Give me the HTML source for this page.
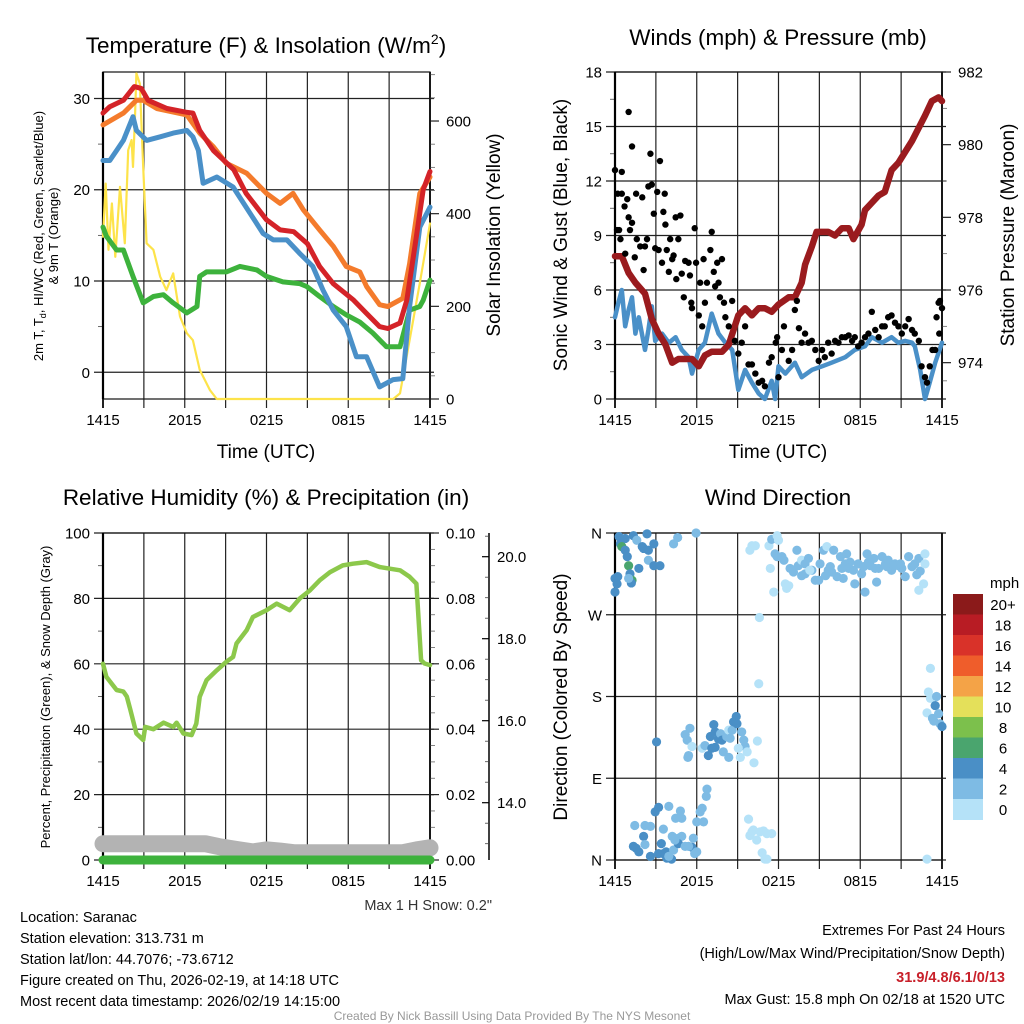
<!DOCTYPE html>
<html><head><meta charset="utf-8"><title>Mesonet Station Meteogram</title>
<style>html,body{margin:0;padding:0;background:#fff}svg{display:block;font-family:"Liberation Sans",Arial,sans-serif}</style>
</head><body>
<svg id="chart" width="1024" height="1024" viewBox="0 0 1024 1024" xmlns="http://www.w3.org/2000/svg">
<rect x="0" y="0" width="1024" height="1024" fill="#fff"/>
<g font-size="22.5" text-anchor="middle" fill="#000">
<text x="266" y="53">Temperature (F) &amp; Insolation (W/m<tspan font-size="14" dy="-9">2</tspan><tspan dy="9">)</tspan></text>
<text x="778" y="45">Winds (mph) &amp; Pressure (mb)</text>
<text x="266" y="505">Relative Humidity (%) &amp; Precipitation (in)</text>
<text x="778" y="505">Wind Direction</text>
</g>
<g font-size="19" text-anchor="middle">
<text x="266" y="458">Time (UTC)</text>
<text x="778" y="458">Time (UTC)</text>
<text transform="translate(500,235) rotate(-90)">Solar Insolation (Yellow)</text>
<text transform="translate(567,235) rotate(-90)">Sonic Wind &amp; Gust (Blue, Black)</text>
<text transform="translate(1014,235) rotate(-90)">Station Pressure (Maroon)</text>
<text transform="translate(567,697) rotate(-90)">Direction (Colored By Speed)</text>
</g>
<g font-size="13" text-anchor="middle">
<text transform="translate(43,236) rotate(-90)">2m T, T<tspan font-size="9" dy="3">d</tspan><tspan dy="-3">, HI/WC (Red, Green, Scarlet/Blue)</tspan></text>
<text transform="translate(58,236) rotate(-90)">&amp; 9m T (Orange)</text>
<text transform="translate(50,697) rotate(-90)">Percent, Precipitation (Green), &amp; Snow Depth (Gray)</text>
</g>
<g id="layers"></g>
<g font-size="14.5" fill="#000">
<text x="492" y="910" text-anchor="end" fill="#333">Max 1 H Snow: 0.2"</text>
<text x="20" y="922">Location: Saranac</text>
<text x="20" y="943">Station elevation: 313.731 m</text>
<text x="20" y="964">Station lat/lon: 44.7076; -73.6712</text>
<text x="20" y="985">Figure created on Thu, 2026-02-19, at 14:18 UTC</text>
<text x="20" y="1006">Most recent data timestamp: 2026/02/19 14:15:00</text>
<text x="1005" y="935" text-anchor="end">Extremes For Past 24 Hours</text>
<text x="1005" y="958" text-anchor="end">(High/Low/Max Wind/Precipitation/Snow Depth)</text>
<text x="1005" y="982" text-anchor="end" fill="#c8202a" font-weight="bold">31.9/4.8/6.1/0/13</text>
<text x="1005" y="1004" text-anchor="end">Max Gust: 15.8 mph On 02/18 at 1520 UTC</text>
<text x="512" y="1020" text-anchor="middle" font-size="12" fill="#999">Created By Nick Bassill Using Data Provided By The NYS Mesonet</text>
</g>
</svg>
<script>
// ---------- DATA ----------
const timeLabels = ["1415","2015","0215","0815","1415"];
// Panel 1
const redT = [0,0.5,1.5,2.3,2.8,3.3,4.7,6.1,6.6,7.1,8.1,9.6,10.5,12,13,14,15,15.9,16.9,18.4,19.3,20.3,20.9,21.8,22.3,23,23.5,24];
const redV = [28.4,29.1,29.8,31.3,31.1,29.8,28.9,28.5,28.4,26.5,24.3,22.2,19.6,16.7,15.6,15.4,14.1,11.6,9.7,7.9,6.5,5,4.8,5.4,7.9,14.9,20,22];
const orangeT = [0,1.5,2.45,2.95,3.95,6.15,7.1,8.1,9.05,10.55,12,13,13.95,14.7,15.9,16.9,17.85,18.85,19.35,20.3,20.9,22,22.5,23.25,24];
const orangeV = [27.1,28.4,29.8,29.8,28.9,28.2,26.2,24.7,22.9,21.8,19.6,18.5,19.6,17.8,15.6,13.8,11.6,11.0,9.4,7.4,7.2,8.1,11.9,19.6,21.4];
const greenT = [0,0.25,1,1.5,2.2,2.95,3.7,4.43,5.15,6.15,6.9,7.1,7.6,9.05,10.05,11.3,12,13.2,14.45,14.95,15.9,16.9,17.85,18.85,19.8,20.8,21.8,22.5,23.25,23.5,24];
const greenV = [15.9,14.9,13.4,13.4,10.5,7.6,8.3,8.5,7.6,6.5,7.2,10.5,11.0,11.0,11.6,11.2,10.5,9.9,9.7,9.4,8.3,7.2,6.3,5.5,4.3,2.8,2.8,6.8,7.2,7.9,10.1];
const blueT = [0,0.5,1,1.5,2.2,2.45,3.2,4.2,5.15,6.15,6.6,7,7.35,8.35,9.55,11.75,12.5,13.5,14.45,15.4,16.15,16.9,17.85,18.6,19.35,20.3,21.3,22,22.5,23.25,24];
const blueV = [23.2,23.2,24.3,25.4,28,26.5,25.4,25.8,26.2,26.5,25.8,24.3,20.7,21.4,20.3,15.2,14.5,14.5,13,11.6,9,6.8,5,1.7,1.7,-1.6,-0.8,-0.7,7.2,15.9,18.1];
const solarT = [0,0.2,0.4,0.65,0.9,1.25,1.6,1.85,2.1,2.2,2.35,2.45,2.7,2.95,3.2,3.7,4.2,4.65,5.15,5.65,6.15,6.6,7.1,7.85,8.35,21.3,21.8,22.5,23.25,24];
const solarV = [350,465,322,422,307,458,336,537,559,501,609,703,681,501,336,322,264,235,271,178,142,127,63,19,0,0,12,127,250,379];
// Panel 2
const presT = [0,0.5,1,1.5,2.2,2.7,3.2,3.7,4.2,4.65,5.65,6.15,6.6,7.1,7.85,8.35,9.05,9.55,10.05,10.55,11,11.5,12,12.75,13.2,13.7,13.95,14.45,14.8,15.65,16.15,16.65,17.15,17.5,18.1,18.35,18.85,19.35,19.8,20.3,20.8,21.3,21.8,22.75,23.25,23.75,24];
const presV = [976.93,976.93,976.47,976.2,975.9,975.2,974.8,974.5,974.0,974.1,974.1,973.9,974.2,974.3,974.3,974.5,975.3,975.5,975.3,975.5,975.5,975.4,975.6,975.8,975.8,976.2,976.7,977.2,977.6,977.6,977.5,977.7,977.7,977.4,977.8,978.2,978.4,978.6,978.7,979.3,979.5,979.8,980.1,980.8,981.2,981.3,981.2];
const windT = [0,0.25,0.5,0.75,1,1.25,1.5,1.75,2.2,2.45,2.7,2.95,3.45,3.95,4.45,4.9,5.4,5.65,6.15,6.6,7.1,7.6,8.1,8.6,9.05,9.55,10.05,10.55,11,11.5,11.75,12,12.5,13.2,13.7,14.45,15.2,15.9,16.9,17.6,18.35,18.85,19.6,20.3,20.8,21.3,21.8,22,22.4,22.75,23.1,23.5,24];
const windV = [4.5,5.3,6.0,4.0,4.9,5.6,3.6,4.5,2.7,3.8,5.1,3.2,3.6,3.1,3.4,2.7,2.3,1.4,2.7,3.1,4.7,3.6,3.1,2.7,0.5,1.6,0.9,0.3,0,1.0,0,1.8,1.4,2.0,1.2,1.6,1.8,2.0,2.3,2.7,2.9,3.4,3.1,3.4,3.1,3.2,3.1,2.9,1.6,0,0.9,2.0,3.1];
const gustT = [0,0.15,0.2,0.3,0.4,0.5,0.5,0.7,0.75,0.9,1.0,1.0,1.1,1.25,1.25,1.45,1.55,1.6,1.85,2.0,2.1,2.2,2.35,2.45,2.6,2.7,2.85,2.95,3.1,3.2,3.3,3.45,3.55,3.65,3.7,3.8,3.95,4.05,4.2,4.3,4.45,4.5,4.65,4.8,4.9,5.05,5.15,5.4,5.5,5.6,5.65,5.85,5.95,6.15,6.25,6.4,6.5,6.6,6.75,7.0,7.1,7.25,7.35,7.5,7.6,7.7,7.85,8.0,8.1,8.35,8.6,8.8,9.05,9.3,9.55,9.8,10.05,10.3,10.55,10.8,11.0,11.3,11.5,11.8,11.9,12.0,12.25,12.4,12.75,13.0,13.2,13.35,13.5,13.7,13.95,14.2,14.45,14.7,14.95,15.2,15.4,15.65,15.9,16.15,16.4,16.65,16.9,17.15,17.4,17.6,17.85,18.1,18.35,18.6,18.85,19.1,19.35,19.6,19.8,20.05,20.3,20.55,20.8,21.05,21.3,21.55,21.8,22.0,22.3,22.5,22.75,22.9,23.1,23.3,23.5,23.6,23.75,23.85,24.0,23.8];
const gustV = [12.6,9.3,11.3,9.3,8.8,12.5,11.3,10.6,8.0,11.0,15.8,10.0,9.3,13.9,9.7,7.8,11.3,8.8,8.4,11.1,7.1,8.4,8.8,11.7,13.5,11.8,10.2,8.3,11.4,8.2,13.1,7.5,10.3,11.3,9.6,8.2,7.0,8.8,7.7,7.9,10.0,6.6,8.8,10.1,6.9,5.6,7.6,7.5,6.8,5.3,5.0,9.4,7.5,4.6,6.4,4.0,7.7,5.3,6.4,8.2,9.2,7.0,6.2,7.5,6.4,5.6,7.7,5.3,4.5,4.0,5.4,3.2,2.5,3.1,4.0,1.9,1.9,1.4,0.9,1.0,0.7,2.0,2.3,3.1,3.4,1.2,2.7,4.0,2.1,2.7,4.9,5.4,3.9,3.1,3.6,3.1,3.2,2.7,2.1,2.7,2.3,3.1,2.5,3.2,3.1,3.4,3.4,3.5,3.2,3.4,2.9,3.1,3.4,3.6,4.8,3.8,3.4,4.0,4.0,4.5,4.6,4.2,4.0,3.6,4.0,4.4,3.8,3.6,3.2,1.8,1.2,0.9,1.8,2.7,2.7,4.5,5.3,5.4,5.0,3.6];
// Panel 3
const rhT = [0,0.25,1,1.5,1.75,2,2.45,2.95,3.1,3.7,4.45,5.15,5.4,5.9,6.5,6.85,7.1,7.6,8.35,9.05,9.55,9.8,10.55,11,12,12.75,13.7,14.45,15.2,15.9,16.65,17.6,18.35,19.35,20.3,21.8,22.5,23,23.35,23.6,24];
const rhV = [60,56,52,51.5,50,46,38.7,36.7,40.7,40,42,40.7,42,38.7,38.2,41.7,49.9,55,58,60.6,62.1,66.2,70.3,74.3,76.4,78.4,76.4,80,82.5,85.5,88,90.1,90.6,91.1,89.6,88.6,86.6,84.5,61.1,60.1,59.6];
const precipT = [0,24];
const precipV = [0,0];
const snowT = [0,7.5,8.5,10,11,12,13,14,22,23,24];
const snowV = [13.0,13.0,12.93,12.85,12.8,12.85,12.82,12.78,12.78,12.85,12.9];
// Panel 4
const dirT = [0.3,0.5,0.75,0.4,0.5,0.75,0.9,1.0,1.1,1.25,1.2,1.0,0,0.2,0.15,0,1.35,1.6,2.0,2.1,2.35,2.45,2.85,2.45,1.75,2.85,3.3,4.3,4.6,5.95,
9.9,10.05,10.3,11.3,11.5,11.9,12.0,11.75,11.9,12.25,12.4,11.4,11.65,12.5,12.6,12.75,12.85,13.1,13.35,13.45,13.7,13.95,14.2,14.45,14.7,14.95,15.05,15.3,15.55,15.65,15.9,16.05,16.3,16.55,16.75,17.0,17.25,17.5,17.6,17.85,18.1,18.35,18.5,18.75,19.0,19.2,19.35,19.6,19.85,20.05,20.3,20.55,20.8,21.05,21.3,21.55,21.8,22.0,22.15,22.3,22.4,22.65,22.3,22.75,22.75,16.9,17.15,18.25,18.6,19.1,19.95,20.45,20.95,15.45,15.8,16.65,13.95,14.3,13.7,
10.6,10.55,10.45,23.15,23.0,23.15,23.6,23.5,23.75,22.9,23.3,23.4,23.85,24.0,
3.05,5.15,5.5,5.3,5.65,5.4,5.35,6.4,6.6,6.85,7.0,7.25,7.1,7.35,7.6,7.75,7.85,7.95,8.2,8.35,8.45,8.6,8.7,8.9,8.95,9.3,9.45,9.55,9.7,9.05,9.2,8.35,7.35,10.2,6.75,6.7,6.4,6.25,6.5,6.0,5.75,5.65,6.0,5.85,
1.45,2.2,2.6,2.1,2.95,3.2,3.95,3.55,4.2,4.65,4.9,4.9,4.8,4.45,1.35,1.55,1.75,2.2,2.6,3.2,3.4,3.55,3.75,3.8,4.15,3.95,4.3,4.65,5.15,4.4,5.4,
9.8,9.9,10.05,10.15,10.4,10.65,10.9,11.15,11.5,10.8,11.0,11.15,22.9];
const dirV = [356,352,354,348,345,341,334,324,315,308,305,310,310,312,304,295,357,352,345,343,359,341,348,330,321,324,324,348,355,360,
341,346,346,346,353,357,352,337,334,334,330,321,295,304,299,302,321,317,341,324,330,326,332,319,308,308,326,341,345,319,317,341,312,334,310,337,328,319,304,326,315,295,337,324,332,306,321,334,326,330,319,326,324,321,312,334,323,326,314,332,318,304,297,337,326,326,321,323,328,321,323,324,326,313,323,321,315,319,313,
267,194,131,211,185,178,180,170,161,162,156,153,150,147,
130,138,145,132,125,115,113,123,126,115,136,149,123,141,133,139,132,119,136,143,134,143,152,158,150,141,132,125,119,123,113,113,124,107,78,70,57,53,42,42,24,14,9,7,
38,38,37,26,53,58,59,34,26,24,26,46,54,46,15,13,9,17,4,7,18,7,9,2,1,4,11,18,15,22,15,
45,27,31,33,22,31,32,29,29,8,1,1,1];
const dirSpeed = [4.5,4.5,4.5,4.5,6.5,4.5,4.5,6.5,4.5,6.5,4.5,2.8,4.5,4.5,4.5,4.5,4.5,2.8,4.5,4.5,4.5,4.5,4.5,2.8,4.5,4.5,4.5,2.8,2.8,2.8,
1,1,1,1,2.8,1,1,2.8,2.8,2.8,2.8,1,1,1,1,1,2.8,2.8,2.8,2.8,1,2.8,2.8,2.8,2.8,2.8,2.8,2.8,1,2.8,2.8,2.8,2.8,2.8,2.8,2.8,2.8,2.8,2.8,2.8,2.8,2.8,2.8,2.8,2.8,2.8,2.8,2.8,2.8,2.8,2.8,2.8,2.8,2.8,2.8,2.8,2.8,2.8,2.8,2.8,2.8,1,1,1,1,2.8,2.8,2.8,2.8,2.8,2.8,2.8,2.8,2.8,2.8,2.8,2.8,1,2.8,
1,1,1,1,1,1,2.8,4.5,2.8,1,2.8,2.8,2.8,4.5,
4.5,2.8,2.8,2.8,1,2.8,2.8,1,2.8,4.5,4.5,4.5,4.5,4.5,4.5,2.8,4.5,2.8,2.8,1,2.8,2.8,4.5,4.5,4.5,2.8,2.8,2.8,1,1,1,2.8,4.5,1,2.8,2.8,2.8,2.8,2.8,2.8,2.8,4.5,2.8,2.8,
2.8,2.8,2.8,4.5,4.5,4.5,2.8,2.8,2.8,2.8,2.8,2.8,2.8,2.8,4.5,4.5,4.5,2.8,4.5,4.5,4.5,4.5,4.5,4.5,4.5,2.8,2.8,4.5,2.8,2.8,2.8,
1,1,1,1,1,1,1,1,1,1,1,1,1];
const speedBins = [0,2,4,6,8,10,12,14,16,18,20];
const binLabels = ["0","2","4","6","8","10","12","14","16","18","20+"];
const binColors = ["#b5e2f8","#7ebbe4","#4a8fc6","#4aa56e","#7cc04c","#e4e05a","#f4a347","#ef5d2b","#d93229","#b81c24","#8b1a1a"];

// ---------- RENDER ----------
const NS = "http://www.w3.org/2000/svg";
const root = document.getElementById('layers');
function el(tag, attrs, parent) {
  const e = document.createElementNS(NS, tag);
  for (const k in attrs) e.setAttribute(k, attrs[k]);
  (parent || root).appendChild(e);
  return e;
}
function linScale(d0, d1, r0, r1) { return v => r0 + (v - d0) * (r1 - r0) / (d1 - d0); }

function panel(cfg) {
  const g = el('g', {});
  
  
  const x = linScale(0, 24, cfg.x0, cfg.x1);
  const yL = linScale(cfg.l0, cfg.l1, cfg.y1, cfg.y0);
  for (let h = 0; h <= 24; h += 3) {
    const gl = el('line', {x1: x(h), x2: x(h), y1: cfg.y0, y2: cfg.y1 + 9, stroke: '#222', 'stroke-width': (h===0||h===24)?2:1.2}, g);
    
    
  }
  for (let i = 0; i < timeLabels.length; i++) {
    const t = el('text', {x: x(i*6), y: cfg.y1 + 26, 'font-size': 15, 'text-anchor': 'middle'}, g);
    t.textContent = timeLabels[i];
    
    
  }
  cfg.lTicks.forEach((v, i) => {
    const gl = el('line', {x1: cfg.x0 - 9, x2: cfg.x1 + 4, y1: yL(v), y2: yL(v), stroke: '#222', 'stroke-width': 1.2}, g);
    
    
    const t = el('text', {x: cfg.x0 - 13, y: yL(v) + 5.5, 'font-size': 15, 'text-anchor': 'end'}, g);
    t.textContent = cfg.lLabels[i];
    
    
  });
  (cfg.lMinor || []).forEach(v => {
    const m = el('line', {x1: cfg.x0 - 5, x2: cfg.x0, y1: yL(v), y2: yL(v), stroke: '#444', 'stroke-width': 0.8}, g);
    
    
  });
  if (cfg.r) {
    const yR = linScale(cfg.r.d0, cfg.r.d1, cfg.y1, cfg.y0);
    cfg.r.ticks.forEach((v, i) => {
      const tk = el('line', {x1: cfg.x1, x2: cfg.x1 + 9, y1: yR(v), y2: yR(v), stroke: '#222', 'stroke-width': 1.2}, g);
      
      
      const t = el('text', {x: cfg.x1 + 16, y: yR(v) + 5.5, 'font-size': 15}, g);
      t.textContent = cfg.r.labels[i];
      
      
    });
    cfg.r.minor.forEach(v => {
      const m = el('line', {x1: cfg.x1, x2: cfg.x1 + 5, y1: yR(v), y2: yR(v), stroke: '#666', 'stroke-width': 0.8}, g);
      
      
    });
    cfg.yR = yR;
  }
  const frame = el('rect', {x: cfg.x0, y: cfg.y0, width: cfg.x1 - cfg.x0, height: cfg.y1 - cfg.y0, fill: 'none', stroke: '#111', 'stroke-width': 1.2}, g);
  
  
  const la = el('line', {x1: cfg.x0, x2: cfg.x0, y1: cfg.y0, y2: cfg.y1, stroke: '#000', 'stroke-width': 2.2}, g);
  
  
  cfg.x = x; cfg.yL = yL; cfg.g = g;
  const clipId = cfg.name + '-clip';
  const cp = el('clipPath', {id: clipId}, g);
  el('rect', {x: cfg.x0 - 6, y: cfg.y0, width: cfg.x1 - cfg.x0 + 12, height: cfg.y1 - cfg.y0 + 6}, cp);
  cfg.data = el('g', {'clip-path': 'url(#' + clipId + ')'}, g);
  return cfg;
}
function series(p, ts, vs, yf, color, w, name, op) {
  let d = '';
  ts.forEach((t, i) => { d += (i ? 'L' : 'M') + p.x(t).toFixed(1) + ',' + yf(vs[i]).toFixed(1); });
  const path = el('path', {d: d, fill: 'none', stroke: color, 'stroke-width': w, 'stroke-linejoin': 'round', 'stroke-linecap': 'round', opacity: op || 1}, p.data);
  
  
}

// Panel 1
const p1 = panel({name: 'temperature-panel', x0: 103, x1: 430, y0: 72, y1: 399, l0: -2.93, l1: 32.9,
  lTicks: [0,10,20,30], lLabels: ['0','10','20','30'], lMinor: [5,15,25],
  r: {d0: 0, d1: 705.8, ticks: [0,200,400,600], labels: ['0','200','400','600'], minor: [50,100,150,250,300,350,450,500,550,650,700]}});
series(p1, solarT, solarV, p1.yR, '#fde34a', 2.2, 'solar-insolation-line');
series(p1, greenT, greenV, p1.yL, '#3db23c', 5, 'dewpoint-line');
series(p1, blueT, blueV, p1.yL, '#4a90c8', 5, 'wind-chill-line');
series(p1, orangeT, orangeV, p1.yL, '#f47b2c', 5, 'temp-9m-line');
series(p1, redT, redV, p1.yL, '#d42328', 5, 'temp-2m-line');

// Panel 2
const p2 = panel({name: 'winds-panel', x0: 615, x1: 942, y0: 72, y1: 399, l0: 0, l1: 18,
  lTicks: [0,3,6,9,12,15,18], lLabels: ['0','3','6','9','12','15','18'], lMinor: [1.5,4.5,7.5,10.5,13.5,16.5],
  r: {d0: 973.0, d1: 982, ticks: [974,976,978,980,982], labels: ['974','976','978','980','982'], minor: [973.5,975,977,979,981]}});
series(p2, windT, windV, p2.yL, '#4a90c8', 4.5, 'sonic-wind-line');
series(p2, presT, presV, p2.yR, '#9a1b1e', 6.5, 'station-pressure-line');
gustT.forEach((t, i) => {
  const c = el('circle', {cx: p2.x(t), cy: p2.yL(gustV[i]), r: 3.2, fill: '#000'}, p2.data);
  
  
});

// Panel 3
const p3 = panel({name: 'humidity-panel', x0: 103, x1: 430, y0: 533, y1: 860, l0: 0, l1: 100,
  lTicks: [0,20,40,60,80,100], lLabels: ['0','20','40','60','80','100'], lMinor: [10,30,50,70,90],
  r: {d0: 0, d1: 0.1, ticks: [0,0.02,0.04,0.06,0.08,0.1], labels: ['0.00','0.02','0.04','0.06','0.08','0.10'], minor: [0.005,0.01,0.015,0.025,0.03,0.035,0.045,0.05,0.055,0.065,0.07,0.075,0.085,0.09,0.095]}});
const snowY = linScale(20, 14, 556.7, 802.7);
const sAx = el('line', {x1: 489, x2: 489, y1: 533, y2: 860, stroke: '#000', 'stroke-width': 1.5});


[14,16,18,20].forEach(v => {
  const tk = el('line', {x1: 482, x2: 489, y1: snowY(v), y2: snowY(v), stroke: '#000', 'stroke-width': 1.2});
  
  
  const t = el('text', {x: 497, y: snowY(v) + 5.5, 'font-size': 15});
  t.textContent = v.toFixed(1);
  
  
});
for (let v = 12.5; v <= 21.5; v += 0.5) {
  if (snowY(v) < 533 || snowY(v) > 860 || v % 2 === 0) continue;
  const m = el('line', {x1: 485, x2: 489, y1: snowY(v), y2: snowY(v), stroke: '#444', 'stroke-width': 0.8});
  
  
}
p3.data.removeAttribute('clip-path');
series(p3, snowT, snowV, snowY, '#b3b3b3', 17, 'snow-depth-line');
series(p3, precipT, precipV, p3.yR, '#3db23c', 9, 'precipitation-line');
series(p3, rhT, rhV, p3.yL, '#8cc84b', 4.5, 'relative-humidity-line');

// Panel 4
const p4 = panel({name: 'wind-direction-panel', x0: 615, x1: 942, y0: 533, y1: 860, l0: 0, l1: 360,
  lTicks: [0,90,180,270,360], lLabels: ['N','E','S','W','N']});
p4.data.removeAttribute('clip-path');
function speedColor(s) { let k = 0; for (let i = 0; i < speedBins.length; i++) if (s >= speedBins[i]) k = i; return binColors[k]; }
dirT.forEach((t, i) => {
  const c = el('circle', {cx: p4.x(t), cy: p4.yL(dirV[i]), r: 4.6, fill: speedColor(dirSpeed[i])}, p4.data);
  
  
});
const cb = el('g', {});


const cbTop = 594, cbH = 20.5;
const mt = el('text', {x: 990, y: 588, 'font-size': 15}, cb);
mt.textContent = 'mph';


for (let i = 0; i < binColors.length; i++) {
  const k = binColors.length - 1 - i;
  const r = el('rect', {x: 953, y: cbTop + i * cbH, width: 30, height: cbH + 0.5, fill: binColors[k]}, cb);
  
  
  const t = el('text', {x: 1003, y: cbTop + i * cbH + 16, 'font-size': 15, 'text-anchor': 'middle'}, cb);
  t.textContent = binLabels[k];
  
  
}
</script>
</body></html>
